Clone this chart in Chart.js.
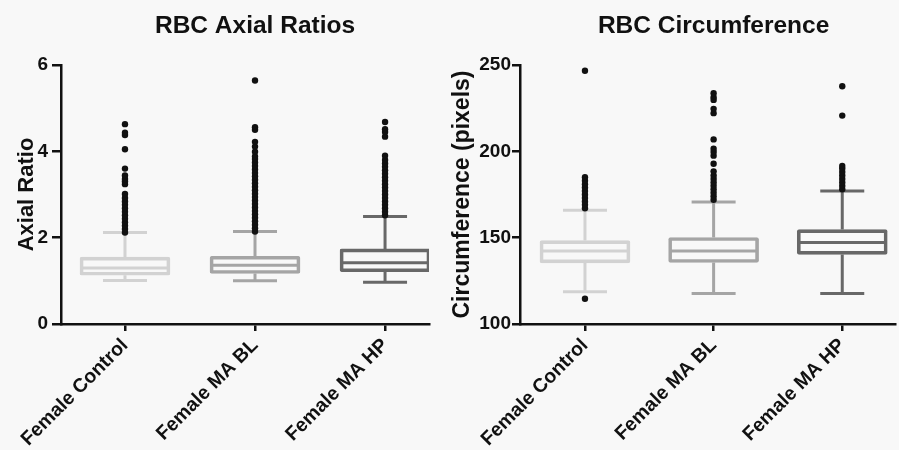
<!DOCTYPE html>
<html>
<head>
<meta charset="utf-8">
<script src="https://cdn.jsdelivr.net/npm/chart.js@4.4.1/dist/chart.umd.min.js"></script>
<style>
  html, body { margin: 0; padding: 0; background: #f8f8f8; }
  .wrap { position: relative; width: 899px; height: 450px; }
  #ratioChart { position: absolute; left: 0; top: 0; }
  #circChart  { position: absolute; left: 449px; top: 0; }
</style>
</head>
<body>
<div class="wrap">
  <canvas id="ratioChart" width="449" height="450"></canvas>
  <canvas id="circChart" width="450" height="450"></canvas>
</div>
<script>
/* ─────────────────────────────────────────────
   DATA
───────────────────────────────────────────── */
const categories = ['Female Control', 'Female MA BL', 'Female MA HP'];

// RBC axial ratios: whisker ends, quartiles, median
const ratioLow    = [1.01, 1.00, 0.97];
const ratioQ1     = [1.13, 1.17, 1.21];
const ratioMedian = [1.30, 1.36, 1.42];
const ratioQ3     = [1.55, 1.57, 1.74];
const ratioHigh   = [2.12, 2.14, 2.49];
const ratioOutliers = [
  [2.12, 2.2, 2.28, 2.36, 2.44, 2.52, 2.6, 2.68, 2.76, 2.84, 2.92, 3.01, 3.24, 3.3, 3.36, 3.44, 3.6, 4.05, 4.38, 4.43, 4.63],
  [2.14, 2.22, 2.3, 2.38, 2.46, 2.54, 2.62, 2.7, 2.78, 2.86, 2.94, 3.02, 3.1, 3.18, 3.26, 3.34, 3.42, 3.5, 3.58, 3.66, 3.74, 3.82, 3.88, 3.99, 4.11, 4.22, 4.5, 4.56, 5.64],
  [2.52, 2.6, 2.68, 2.76, 2.84, 2.92, 3.0, 3.08, 3.16, 3.24, 3.32, 3.4, 3.48, 3.56, 3.64, 3.72, 3.8, 3.9, 4.34, 4.45, 4.51, 4.68],
];

// RBC circumference (pixels)
const circLow    = [118.7, 117.7, 117.7];
const circQ1     = [135.4, 135.6, 140.3];
const circMedian = [142.3, 142.3, 147.2];
const circQ3     = [148.3, 150.1, 154.7];
const circHigh   = [165.9, 170.7, 177.0];
const circOutliers = [
  [114.6, 167, 169, 171, 173, 175, 177, 179, 181, 183, 185, 246.7],
  [172, 174, 176, 178, 180, 182, 184, 186, 188.4, 192.8, 197.5, 199.6, 201.5, 206.9, 222.1, 224.6, 229.8, 231.3, 233.6],
  [178, 180, 182, 184, 186, 188, 190, 191.5, 220.7, 237.7],
];

const ratioTicks = [0, 2, 4, 6];
const circTicks  = [100, 150, 200, 250];

/* ─────────────────────────────────────────────
   STYLE
───────────────────────────────────────────── */
const GROUP_COLORS = ['#d2d2d2', '#a5a5a5', '#686868'];
const INK = '#111';
const FONT = "'Liberation Sans', Arial, Helvetica, sans-serif";

Chart.defaults.font.family = FONT;
Chart.defaults.font.weight = 'bold';
Chart.defaults.color = INK;

/* ─────────────────────────────────────────────
   BOX PLOT PIECES (whiskers, median, title)
───────────────────────────────────────────── */
const boxPlotPlugin = {
  id: 'boxPlot',
  beforeDatasetsDraw(chart, args, opts) {
    const { ctx, scales: { x, y } } = chart;
    const capHalf = 22;
    const boxHalf = 43;
    ctx.save();
    ctx.lineWidth = 3;
    ctx.lineCap = 'butt';
    opts.low.forEach((lo, i) => {
      const cx = x.getPixelForValue(i);
      ctx.strokeStyle = GROUP_COLORS[i];
      ctx.beginPath();
      // whiskers
      ctx.moveTo(cx, y.getPixelForValue(opts.q3[i]));
      ctx.lineTo(cx, y.getPixelForValue(opts.high[i]));
      ctx.moveTo(cx, y.getPixelForValue(opts.q1[i]));
      ctx.lineTo(cx, y.getPixelForValue(lo));
      // caps
      ctx.moveTo(cx - capHalf, y.getPixelForValue(opts.high[i]));
      ctx.lineTo(cx + capHalf, y.getPixelForValue(opts.high[i]));
      ctx.moveTo(cx - capHalf, y.getPixelForValue(lo));
      ctx.lineTo(cx + capHalf, y.getPixelForValue(lo));
      // median
      ctx.moveTo(cx - boxHalf, y.getPixelForValue(opts.median[i]));
      ctx.lineTo(cx + boxHalf, y.getPixelForValue(opts.median[i]));
      ctx.stroke();
    });
    ctx.restore();
  },
  afterDraw(chart, args, opts) {
    const { ctx, scales: { x } } = chart;
    ctx.save();
    ctx.fillStyle = INK;
    ctx.font = `bold 24.5px ${FONT}`;
    ctx.textAlign = 'center';
    ctx.textBaseline = 'middle';
    ctx.fillText(opts.title, x.getPixelForValue(1), 26);
    ctx.restore();
  },
};

function buildBoxChart(canvas, cfg) {
  const outlierPoints = [];
  cfg.outliers.forEach((list, i) => list.forEach((v) => outlierPoints.push({ x: i, y: v })));

  return new Chart(canvas, {
    type: 'scatter',
    data: {
      datasets: [
        {
          type: 'scatter',
          data: outlierPoints,
          pointRadius: 3.2,
          pointBackgroundColor: INK,
          pointBorderWidth: 0,
          order: 0,
        },
        {
          type: 'bar',
          data: cfg.q1.map((q, i) => ({ x: i, y: [q, cfg.q3[i]] })),
          backgroundColor: 'rgba(0,0,0,0)',
          borderColor: GROUP_COLORS,
          borderWidth: 3,
          borderSkipped: false,
          borderRadius: 2,
          barThickness: 90,
          order: 1,
        },
      ],
    },
    options: {
      responsive: false,
      animation: false,
      layout: { padding: { top: 65, right: cfg.padRight, left: 0, bottom: 0 } },
      plugins: {
        legend: { display: false },
        tooltip: { enabled: false },
        boxPlot: {
          title: cfg.title,
          low: cfg.low, q1: cfg.q1, median: cfg.median, q3: cfg.q3, high: cfg.high,
        },
      },
      scales: {
        x: {
          type: 'linear',
          offset: false,
          min: cfg.xMin,
          max: cfg.xMax,
          afterBuildTicks: (scale) => { scale.ticks = categories.map((_, i) => ({ value: i })); },
          afterFit: (scale) => { scale.height = 126; },
          ticks: {
            autoSkip: false,
            minRotation: 45,
            maxRotation: 45,
            padding: 3,
            font: { size: 19.5, weight: 'bold' },
            callback: (v) => categories[v] ?? '',
          },
          grid: { offset: false, drawOnChartArea: false, drawTicks: true, tickLength: 7, color: INK, lineWidth: 2.5 },
          border: { display: true, color: INK, width: 2.5 },
        },
        y: {
          min: cfg.ticks[0],
          max: cfg.ticks[cfg.ticks.length - 1],
          afterBuildTicks: (scale) => { scale.ticks = cfg.ticks.map((v) => ({ value: v })); },
          afterFit: (scale) => { scale.width = cfg.yWidth; },
          ticks: { padding: cfg.yTickPad, font: { size: 19, weight: 'bold' } },
          grid: { drawOnChartArea: false, drawTicks: true, tickLength: cfg.yTickLen, color: INK, lineWidth: 2.5 },
          border: { display: true, color: INK, width: 2.5 },
          title: {
            display: true,
            text: cfg.yTitle,
            font: { size: cfg.yTitleSize, weight: 'bold' },
            padding: { top: cfg.yTitlePad, bottom: 0 },
          },
        },
      },
    },
    plugins: [boxPlotPlugin],
  });
}

/* ─────────────────────────────────────────────
   INIT
───────────────────────────────────────────── */
buildBoxChart(document.getElementById('ratioChart'), {
  title: 'RBC Axial Ratios',
  yTitle: 'Axial Ratio',
  low: ratioLow, q1: ratioQ1, median: ratioMedian, q3: ratioQ3, high: ratioHigh,
  outliers: ratioOutliers,
  ticks: ratioTicks,
  xMin: -0.492, xMax: 2.338,
  padRight: 20,
  yWidth: 61, yTickPad: 4, yTickLen: 9, yTitlePad: 14, yTitleSize: 22,
});

buildBoxChart(document.getElementById('circChart'), {
  title: 'RBC Circumference',
  yTitle: 'Circumference (pixels)',
  low: circLow, q1: circQ1, median: circMedian, q3: circQ3, high: circHigh,
  outliers: circOutliers,
  ticks: circTicks,
  xMin: -0.505, xMax: 2.41,
  padRight: 0,
  yWidth: 71, yTickPad: 1, yTickLen: 8, yTitlePad: 0, yTitleSize: 23,
});
</script>
</body>
</html>
